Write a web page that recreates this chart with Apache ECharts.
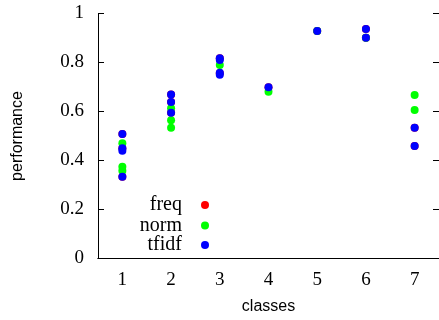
<!DOCTYPE html>
<html>
<head>
    <meta charset="utf-8" />
    <script src="https://cdn.jsdelivr.net/npm/echarts@6/dist/echarts.min.js"></script>
    <style>
        body { margin: 0; background: #fff; }
        #main { width: 439px; height: 320px; }
    </style>
</head>
<body>
<div id="main"></div>
<script>
    // data: [class index, performance]
    let classes = ['1', '2', '3', '4', '5', '6', '7']
    let freqData = [
        [0, 0.508], [0, 0.45], [0, 0.334],
        [1, 0.669], [1, 0.639], [1, 0.595],
        [2, 0.817], [2, 0.756],
        [3, 0.699], [4, 0.929], [5, 0.937], [5, 0.901],
        [6, 0.534], [6, 0.459]
    ]
    let normData = [
        [0, 0.47], [0, 0.375], [0, 0.358],
        [1, 0.613], [1, 0.564], [1, 0.534],
        [2, 0.79],
        [3, 0.681], [4, 0.929], [5, 0.901],
        [6, 0.667], [6, 0.606]
    ]
    let tfidfData = [
        [0, 0.508], [0, 0.45], [0, 0.44], [0, 0.334],
        [1, 0.669], [1, 0.639], [1, 0.595],
        [2, 0.817], [2, 0.81], [2, 0.758], [2, 0.75],
        [3, 0.699], [4, 0.929], [5, 0.937], [5, 0.901],
        [6, 0.534], [6, 0.459]
    ]
    let yTicks = [0, 0.2, 0.4, 0.6, 0.8, 1]

    let serif = 'Liberation Serif'
    let sans = 'Liberation Sans'

    let chart = echarts.init(document.getElementById('main'))

    let xBase = {
        type: 'category',
        data: classes,
        boundaryGap: true,
        axisLine: { lineStyle: { color: '#000', width: 1 } },
        axisTick: { inside: true, alignWithLabel: true, length: 6, lineStyle: { color: '#000' } },
        splitLine: { show: false }
    }
    let yBase = {
        type: 'value',
        min: yTicks[0],
        max: yTicks[yTicks.length - 1],
        interval: 0.2,
        axisLine: { show: true, lineStyle: { color: '#000', width: 1 } },
        axisTick: { show: true, inside: true, length: 6, lineStyle: { color: '#000' } },
        splitLine: { show: false }
    }

    function legendFor(name, centerY) {
        return {
            data: [name],
            right: 230,
            top: centerY - 10,
            padding: 0,
            align: 'right',
            icon: 'circle',
            itemWidth: 8,
            itemHeight: 8,
            selectedMode: false,
            textStyle: { fontFamily: serif, fontSize: 20, color: '#000', padding: [0, 14, 0, 0] }
        }
    }

    chart.setOption({
        animation: false,
        grid: { left: 98, top: 13.5, width: 342, height: 245 },
        legend: [legendFor('freq', 205), legendFor('norm', 225.5), legendFor('tfidf', 245)],
        xAxis: [
            Object.assign({}, xBase, {
                position: 'bottom',
                name: 'classes',
                nameLocation: 'middle',
                nameGap: 40,
                nameTextStyle: { fontFamily: sans, fontSize: 16, color: '#000' },
                axisLabel: { fontFamily: serif, fontSize: 19, color: '#000', margin: 12 }
            }),
            Object.assign({}, xBase, { position: 'top', axisLabel: { show: false } })
        ],
        yAxis: [
            Object.assign({}, yBase, {
                position: 'left',
                name: 'performance',
                nameLocation: 'middle',
                nameGap: 72,
                nameTextStyle: { fontFamily: sans, fontSize: 16, color: '#000' },
                axisLabel: { fontFamily: serif, fontSize: 19, color: '#000', margin: 14 }
            }),
            Object.assign({}, yBase, { position: 'right', axisLabel: { show: false } })
        ],
        series: [
            { name: 'freq', type: 'scatter', symbolSize: 8, itemStyle: { color: '#ff0000', opacity: 1 }, data: freqData },
            { name: 'norm', type: 'scatter', symbolSize: 8, itemStyle: { color: '#00ff00', opacity: 1 }, data: normData },
            { name: 'tfidf', type: 'scatter', symbolSize: 8, itemStyle: { color: '#0000ff', opacity: 1 }, data: tfidfData }
        ]
    })
</script>
</body>
</html>
